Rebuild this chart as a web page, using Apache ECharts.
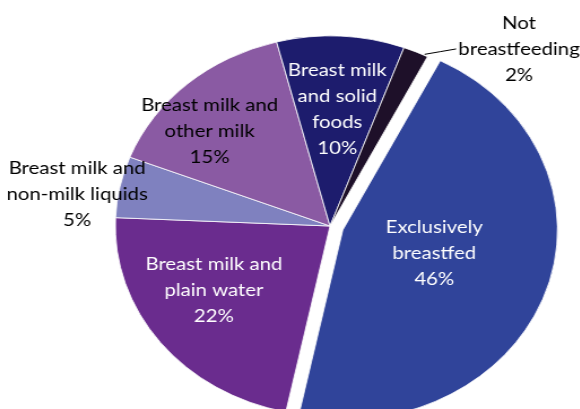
<!DOCTYPE html>
<html><head><meta charset="utf-8">
<script src="https://cdn.jsdelivr.net/npm/echarts@6/dist/echarts.min.js"></script>
<style>
html,body{margin:0;padding:0;background:#fff;overflow:hidden;width:580px;height:409px;}
#chart{position:absolute;left:0;top:0;width:580px;height:409px;transform:scaleX(1.13);transform-origin:330px 226px;}
</style></head><body><div id="chart"></div>
<script>
// Data
const categories = ['Exclusively\nbreastfed', 'Breast milk and\nplain water', 'Breast milk and\nnon-milk liquids', 'Breast milk and\nother milk', 'Breast milk\nand solid\nfoods', 'Not\nbreastfeeding'];
const values = [45.8, 22.4, 5.2, 15.1, 9.6, 1.9];
const exploded = [true, false, false, false, false, false];

// Styles / layout
const colors = ['#30449A', '#6A2C8E', '#7F81BF', '#8A5AA3', '#1D1C6D', '#1E1029'];
const labelColors = ['#ffffff', '#ffffff', '#000000', '#000000', '#ffffff', '#000000'];
const labelSpot = [[96.2, -3.1], [121, 5.9], [226, -3.8], [142.5, -6.8], [117, 0.3], [243.6, 19.8]]; // [radius, angle nudge]
const CX = 330, CY = 226, R = 190, START = 27, OFFSET = 12;

const total = values.reduce((a, b) => a + b, 0);
const mids = [];
let acc = 0;
values.forEach(v => { mids.push(START + (acc + v / 2) / total * 360); acc += v; });
const expIdx = exploded.indexOf(true);
const expMid = mids[expIdx] * Math.PI / 180;
const ECX = CX + OFFSET * Math.sin(expMid), ECY = CY - OFFSET * Math.cos(expMid);

function makeData(showExploded) {
  return categories.map((c, i) => {
    const visible = exploded[i] === showExploded;
    const d = { name: c, value: values[i] };
    if (!visible) {
      d.itemStyle = { color: 'rgba(0,0,0,0)', borderWidth: 0 };
      d.label = { show: false };
      d.labelLine = { show: false };
      return d;
    }
    d.itemStyle = { color: colors[i] };
    d.label = { color: labelColors[i] };
    if (i === 5) {
      d.label.position = 'outside';
      d.labelLine = { show: true, length: 5, length2: 5, lineStyle: { color: '#000', width: 1 } };
    }
    return d;
  });
}

function labelLayout(p) {
  const i = p.dataIndex;
  const s = labelSpot[i];
  const th = (mids[i] + s[1]) * Math.PI / 180;
  const x = CX + s[0] * Math.sin(th), y = CY - s[0] * Math.cos(th);
  const res = { x: x, y: y, align: 'center', verticalAlign: 'middle' };
  if (i === 5) {
    const ts = (START - 1) * Math.PI / 180;
    const sx = CX + (R + 1) * Math.sin(ts), sy = CY - (R + 1) * Math.cos(ts);
    const ex = x - p.labelRect.width / 2 - 2, ey = y;
    res.labelLinePoints = [[sx, sy], [(sx + ex) / 2, (sy + ey) / 2], [ex, ey]];
  }
  return res;
}

const common = {
  type: 'pie',
  radius: R,
  startAngle: 90 - START,
  clockwise: true,
  avoidLabelOverlap: false,
  itemStyle: { borderColor: '#ffffff', borderWidth: 0.8 },
  emphasis: { disabled: true },
  label: {
    show: true, position: 'inside',
    formatter: p => p.name + '\n' + Math.round(p.value) + '%',
    fontFamily: 'Lato', fontSize: 18, lineHeight: 26, align: 'center'
  },
  labelLine: { show: false },
  labelLayout: labelLayout
};

const chart = echarts.init(document.getElementById('chart'), null, { renderer: 'canvas' });
chart.setOption({
  animation: false,
  backgroundColor: '#fff',
  series: [
    Object.assign({}, common, { center: [CX, CY], data: makeData(false) }),
    Object.assign({}, common, { center: [ECX, ECY], data: makeData(true) })
  ]
});
</script></body></html>
